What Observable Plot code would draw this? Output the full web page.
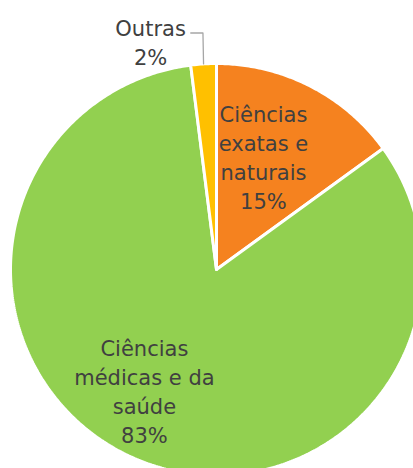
<!DOCTYPE html>
<html>
<head>
<meta charset="utf-8">
<script src="https://cdn.jsdelivr.net/npm/d3@7"></script>
<script src="https://cdn.jsdelivr.net/npm/@observablehq/plot@0.6"></script>
<style>
  html, body { margin: 0; padding: 0; background: #fff; overflow: hidden; }
  #chart svg { display: block; }
</style>
</head>
<body>
<div id="chart"></div>
<script>
// ---- data ----
const categories = ["Ciências exatas e naturais", "Ciências médicas e da saúde", "Outras"];
const labelLines = [["Ciências", "exatas e", "naturais"], ["Ciências", "médicas e da", "saúde"], ["Outras"]];
const shares = [15, 83, 2];
const colors = ["#F5821F", "#92D050", "#FFC000"];

// ---- layout (not data) ----
const W = 413, H = 468;
const cx = 216, cy = 269, R = 206;
// label centres in unit-circle coordinates (y up)
const labelPos = [[0.228, 0.548], [-0.350, -0.585], [-0.320, 1.110]];

const pie = d3.pie().sort(null).value(d => d.value).startAngle(0).endAngle(2 * Math.PI);
const rows = categories.map((c, i) => ({ cat: c, value: shares[i], color: colors[i], lines: labelLines[i], i }));
const arcs = pie(rows);

// polygon points for each slice
const poly = [];
for (const a of arcs) {
  poly.push({ cat: a.data.cat, x: 0, y: 0 });
  const n = Math.max(4, Math.ceil((a.endAngle - a.startAngle) / 0.01));
  for (let k = 0; k <= n; k++) {
    const t = a.startAngle + (a.endAngle - a.startAngle) * k / n;
    poly.push({ cat: a.data.cat, x: Math.sin(t), y: Math.cos(t) });
  }
  poly.push({ cat: a.data.cat, x: 0, y: 0 });
}

const labels = rows.map((d, i) => ({
  x: labelPos[i][0], y: labelPos[i][1],
  text: d.lines.join("\n") + "\n" + d.value + "%"
}));

// leader line for "Outras"
const outras = arcs[2];
const mid = (outras.startAngle + outras.endAngle) / 2;
const mx = Math.sin(mid), my = Math.cos(mid);
const leader = [
  { x: -0.125, y: 1.148 },
  { x: mx - 0.003, y: 1.148 },
  { x: mx, y: my }
];

const chart = Plot.plot({
  width: W, height: H,
  margin: 0,
  x: { domain: [-1, 1], range: [cx - R, cx + R], axis: null },
  y: { domain: [-1, 1], range: [cy + R, cy - R], axis: null },
  style: { fontFamily: "DejaVu Sans, Verdana, sans-serif", background: "white" },
  marks: [
    Plot.line(poly, {
      x: "x", y: "y", z: "cat",
      fill: d => colors[categories.indexOf(d.cat)],
      stroke: "white", strokeWidth: 3, strokeLinejoin: "miter", curve: "linear"
    }),
    Plot.line(leader, { x: "x", y: "y", stroke: "#A6A6A6", strokeWidth: 1.3 }),
    Plot.text(labels, {
      x: "x", y: "y", text: "text",
      fontSize: 21, lineHeight: 1.38, lineAnchor: "middle",
      fill: "#404040", textAnchor: "middle"
    })
  ]
});
document.getElementById("chart").appendChild(chart);
</script>
</body>
</html>
